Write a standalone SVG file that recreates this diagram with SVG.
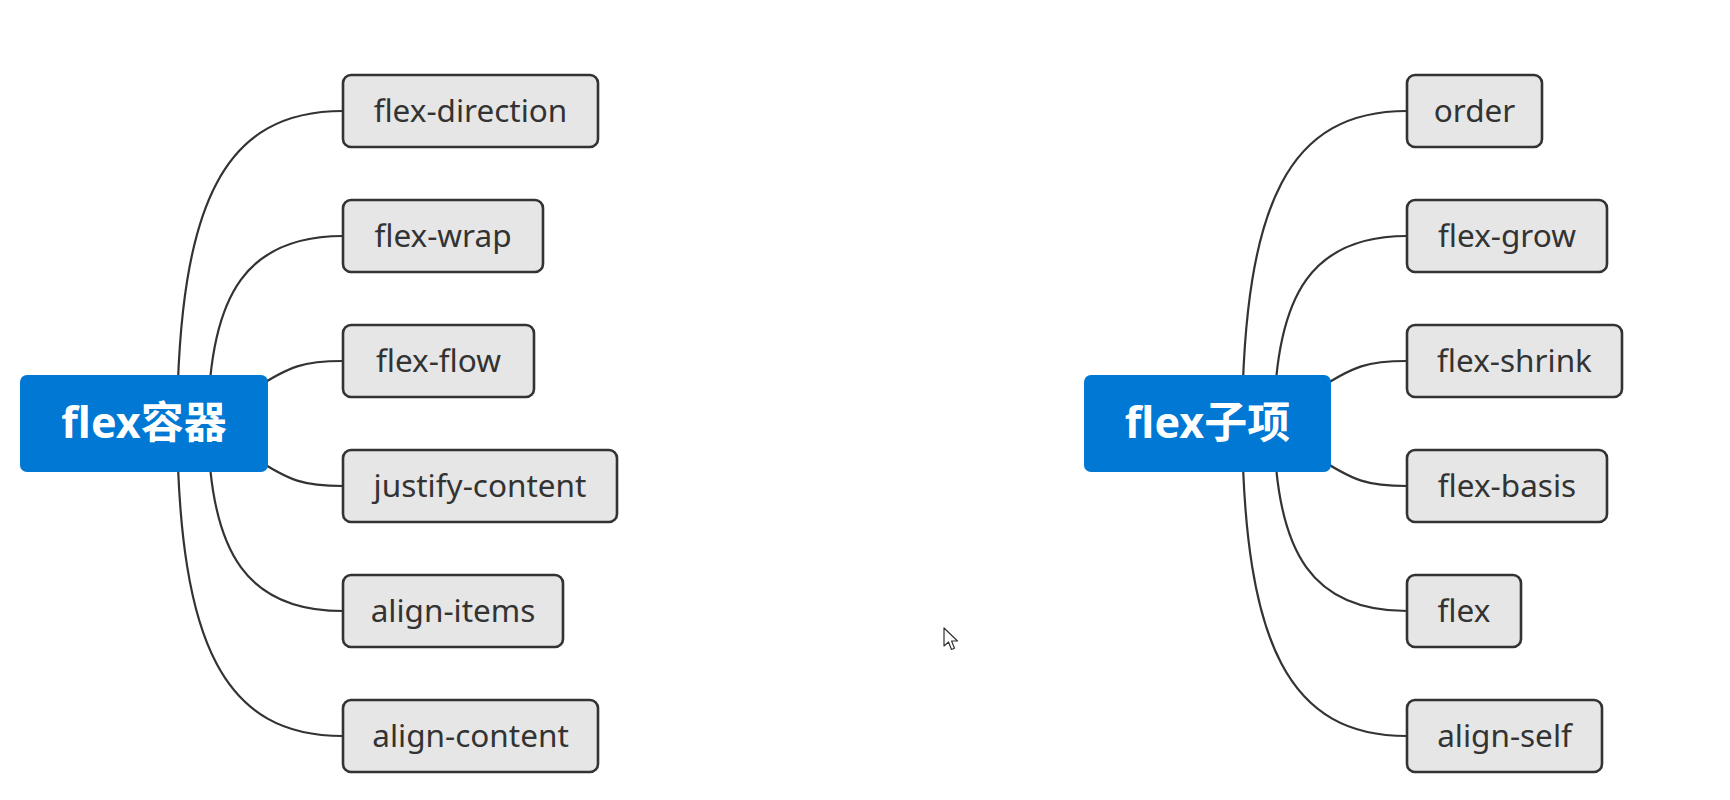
<svg xmlns="http://www.w3.org/2000/svg" width="1730" height="800" viewBox="0 0 1730 800">
<style>
.root rect{fill:#0078d4;stroke:none}
.root text{fill:#ffffff;font-family:"Noto Sans","Noto Sans CJK SC",sans-serif;font-weight:bold;font-size:43px;text-anchor:middle}
.child rect{fill:#e6e6e6;stroke:#333333;stroke-width:2.6}
.child text{fill:#333333;font-family:"Noto Sans","Open Sans",sans-serif;font-size:31.5px;text-anchor:middle}
#connectors path{fill:none;stroke:#333333;stroke-width:2.2}
</style>
<rect width="1730" height="800" fill="#ffffff"/>
<g id="connectors">
<path d="M177 423.5 C179 200 225 111 343 111"/>
<path d="M208 423.5 C209 290 250 236 343 236"/>
<path d="M250 392 C290 365 305 361 343 361"/>
<path d="M250 455 C290 482 305 486 343 486"/>
<path d="M208 423.5 C209 557 250 611 343 611"/>
<path d="M177 423.5 C179 647 225 736 343 736"/>
<path d="M1242 423.5 C1244 200 1290 111 1407 111"/>
<path d="M1274 423.5 C1275 290 1315 236 1407 236"/>
<path d="M1314 392 C1354 365 1369 361 1407 361"/>
<path d="M1314 455 C1354 482 1369 486 1407 486"/>
<path d="M1274 423.5 C1275 557 1315 611 1407 611"/>
<path d="M1242 423.5 C1244 647 1290 736 1407 736"/>
</g>
<g id="root-left" class="root"><rect x="20" y="375" width="248" height="97" rx="7"/><text x="144" y="438">flex容器</text></g>
<g id="n-flex-direction" class="child"><rect x="343" y="75" width="255" height="72" rx="8"/><text x="470.5" y="121.5">flex-direction</text></g>
<g id="n-flex-wrap" class="child"><rect x="343" y="200" width="200" height="72" rx="8"/><text x="443" y="246.5">flex-wrap</text></g>
<g id="n-flex-flow" class="child"><rect x="343" y="325" width="191" height="72" rx="8"/><text x="438.5" y="371.5">flex-flow</text></g>
<g id="n-justify-content" class="child"><rect x="343" y="450" width="274" height="72" rx="8"/><text x="480" y="496.5">justify-content</text></g>
<g id="n-align-items" class="child"><rect x="343" y="575" width="220" height="72" rx="8"/><text x="453" y="621.5">align-items</text></g>
<g id="n-align-content" class="child"><rect x="343" y="700" width="255" height="72" rx="8"/><text x="470.5" y="746.5">align-content</text></g>
<g id="root-right" class="root"><rect x="1084" y="375" width="247" height="97" rx="7"/><text x="1207.5" y="438">flex子项</text></g>
<g id="n-order" class="child"><rect x="1407" y="75" width="135" height="72" rx="8"/><text x="1474.5" y="121.5">order</text></g>
<g id="n-flex-grow" class="child"><rect x="1407" y="200" width="200" height="72" rx="8"/><text x="1507" y="246.5">flex-grow</text></g>
<g id="n-flex-shrink" class="child"><rect x="1407" y="325" width="215" height="72" rx="8"/><text x="1514.5" y="371.5">flex-shrink</text></g>
<g id="n-flex-basis" class="child"><rect x="1407" y="450" width="200" height="72" rx="8"/><text x="1507" y="496.5">flex-basis</text></g>
<g id="n-flex" class="child"><rect x="1407" y="575" width="114" height="72" rx="8"/><text x="1464" y="621.5">flex</text></g>
<g id="n-align-self" class="child"><rect x="1407" y="700" width="195" height="72" rx="8"/><text x="1504.5" y="746.5">align-self</text></g>
<path d="M944 628 L944 646 L948.5 642 L951.5 649.5 L954.5 648.3 L951.6 641 L957.5 641 Z" fill="#ffffff" stroke="#333333" stroke-width="1.2" stroke-linejoin="round"/>
</svg>
